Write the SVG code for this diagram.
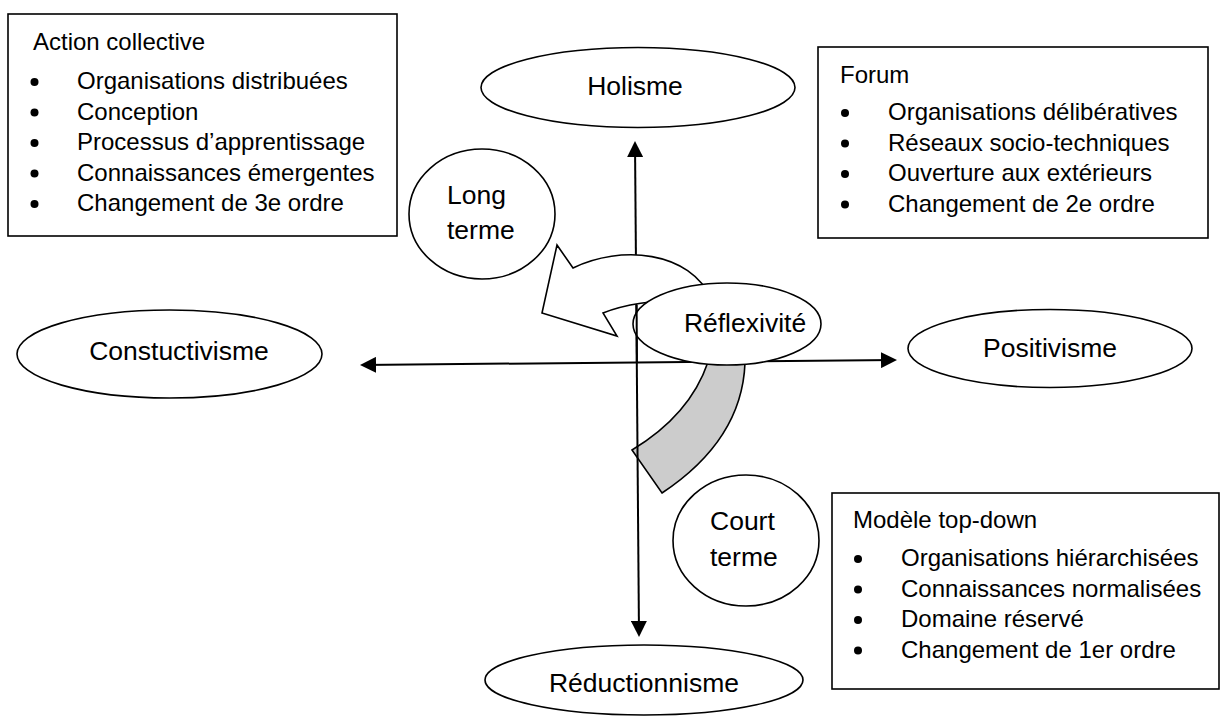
<svg xmlns="http://www.w3.org/2000/svg" width="1227" height="720" viewBox="0 0 1227 720">
<style>
.box{fill:#fff;stroke:#000;stroke-width:1.6}
.shp{fill:#fff;stroke:#000;stroke-width:1.6}
.lt{font-family:"Liberation Sans",Arial,sans-serif;font-size:24px;fill:#000}
.st{font-family:"Liberation Sans",Arial,sans-serif;font-size:26.5px;fill:#000}
.ax{stroke:#000;stroke-width:2;fill:none}
.bul{fill:#000}
</style>
<defs>
<marker id="ah" markerWidth="16" markerHeight="16" refX="14" refY="8" orient="auto-start-reverse" markerUnits="userSpaceOnUse" viewBox="0 0 16 16">
<path d="M0,0 L16,8 L0,16 Z" fill="#000"/>
</marker>
</defs>
<rect width="1227" height="720" fill="#fff"/>

<g id="action-collective">
<rect class="box" x="8" y="14" width="389" height="222"/>
<text class="lt" x="33" y="50">Action collective</text>
<circle class="bul" cx="34.5" cy="82" r="4"/><text class="lt" x="77" y="89">Organisations distribuées</text>
<circle class="bul" cx="34.5" cy="112.5" r="4"/><text class="lt" x="77" y="119.5">Conception</text>
<circle class="bul" cx="34.5" cy="143" r="4"/><text class="lt" x="77" y="150">Processus d’apprentissage</text>
<circle class="bul" cx="34.5" cy="173.5" r="4"/><text class="lt" x="77" y="180.5">Connaissances émergentes</text>
<circle class="bul" cx="34.5" cy="204" r="4"/><text class="lt" x="77" y="211">Changement de 3e ordre</text>
</g>

<g id="forum">
<rect class="box" x="818" y="47" width="390" height="191"/>
<text class="lt" x="840" y="83">Forum</text>
<circle class="bul" cx="845" cy="113" r="4"/><text class="lt" x="888" y="120">Organisations délibératives</text>
<circle class="bul" cx="845" cy="143.5" r="4"/><text class="lt" x="888" y="150.5">Réseaux socio-techniques</text>
<circle class="bul" cx="845" cy="174" r="4"/><text class="lt" x="888" y="181">Ouverture aux extérieurs</text>
<circle class="bul" cx="845" cy="204.5" r="4"/><text class="lt" x="888" y="211.5">Changement de 2e ordre</text>
</g>

<g id="modele-top-down">
<rect class="box" x="832" y="493" width="387" height="196"/>
<text class="lt" x="853" y="528">Modèle top-down</text>
<circle class="bul" cx="858" cy="559" r="4"/><text class="lt" x="901" y="566">Organisations hiérarchisées</text>
<circle class="bul" cx="858" cy="589.5" r="4"/><text class="lt" x="901" y="596.5">Connaissances normalisées</text>
<circle class="bul" cx="858" cy="620" r="4"/><text class="lt" x="901" y="627">Domaine réservé</text>
<circle class="bul" cx="858" cy="650.5" r="4"/><text class="lt" x="901" y="657.5">Changement de 1er ordre</text>
</g>

<g id="holisme">
<ellipse class="shp" cx="638" cy="87.5" rx="157" ry="40"/>
<text class="st" x="635" y="95" text-anchor="middle">Holisme</text>
</g>

<g id="constuctivisme">
<ellipse class="shp" cx="169.5" cy="354" rx="152.5" ry="44"/>
<text class="st" x="179" y="360" text-anchor="middle">Constuctivisme</text>
</g>

<g id="positivisme">
<ellipse class="shp" cx="1050" cy="348.5" rx="142" ry="39"/>
<text class="st" x="1050" y="357" text-anchor="middle">Positivisme</text>
</g>

<g id="reductionnisme">
<ellipse class="shp" cx="644" cy="680" rx="159" ry="35"/>
<text class="st" x="644" y="692" text-anchor="middle">Réductionnisme</text>
</g>

<g id="long-terme">
<ellipse class="shp" cx="482" cy="214" rx="73" ry="65"/>
<text class="st" x="447" y="204">Long</text>
<text class="st" x="447" y="239">terme</text>
</g>

<g id="court-terme">
<ellipse class="shp" cx="746" cy="540.5" rx="73" ry="65.5"/>
<text class="st" x="710" y="530">Court</text>
<text class="st" x="710" y="566">terme</text>
</g>

<g id="fleche-court-terme">
<path d="M708,362 Q690,415 632,450 L662,493 Q742,440 745,363 Z" fill="#cccccc" stroke="#000" stroke-width="1.6" stroke-linejoin="miter"/>
</g>

<g id="connectors">
<line class="ax" x1="362" y1="365" x2="895" y2="360" marker-start="url(#ah)" marker-end="url(#ah)"/>
<line class="ax" x1="635" y1="143" x2="639" y2="635" marker-start="url(#ah)" marker-end="url(#ah)"/>
</g>

<g id="fleche-long-terme">
<path d="M712,300 C690,250 620,245 573,268 L557,245 L542,313 L617,336 L603,313 Q635,300 690,300 Z" fill="#fff" stroke="#000" stroke-width="1.6" stroke-linejoin="miter"/>
</g>

<g id="reflexivite">
<ellipse class="shp" cx="727" cy="324" rx="94" ry="41"/>
<text class="st" x="745" y="332" text-anchor="middle">Réflexivité</text>
</g>

<g id="axis-overlay">
<line class="ax" x1="636.6" y1="305" x2="636.9" y2="362"/>
</g>
</svg>
